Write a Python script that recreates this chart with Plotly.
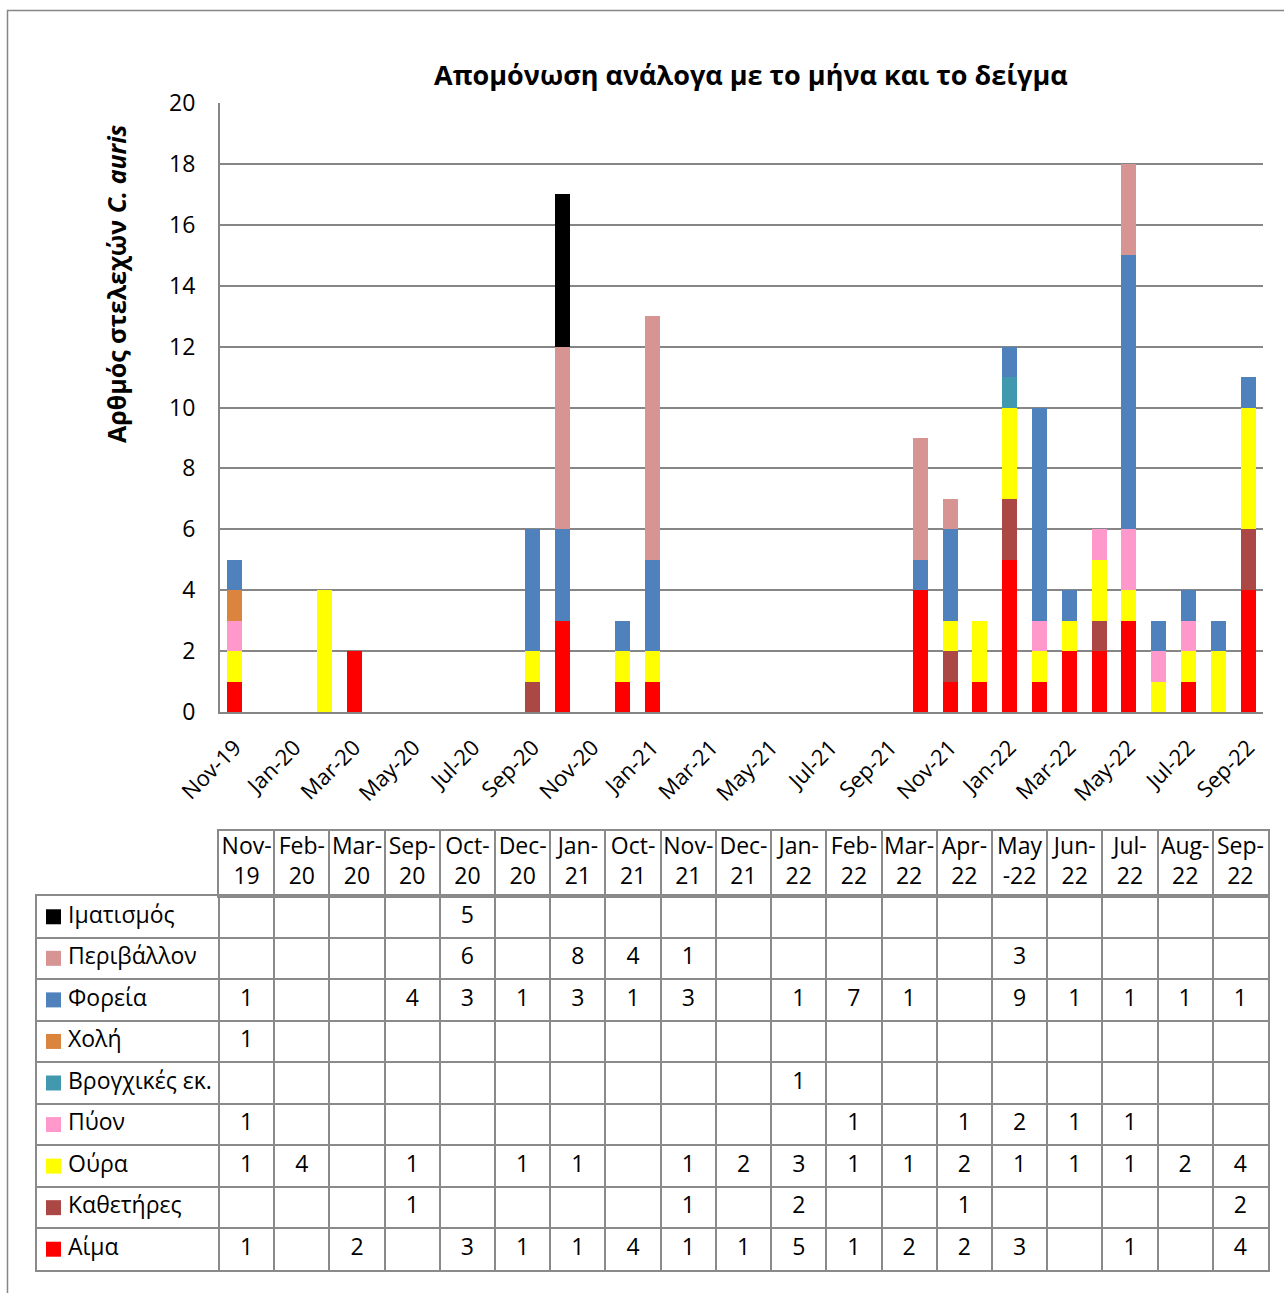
import pandas as pd
import plotly.graph_objects as go

W, H = 1284, 1293

# Months that have isolates (columns of the data table)
months = ["Nov-19", "Feb-20", "Mar-20", "Sep-20", "Oct-20", "Dec-20", "Jan-21",
          "Oct-21", "Nov-21", "Dec-21", "Jan-22", "Feb-22", "Mar-22", "Apr-22",
          "May-22", "Jun-22", "Jul-22", "Aug-22", "Sep-22"]
header_labels = ["Nov-<br>19", "Feb-<br>20", "Mar-<br>20", "Sep-<br>20", "Oct-<br>20",
                 "Dec-<br>20", "Jan-<br>21", "Oct-<br>21", "Nov-<br>21", "Dec-<br>21",
                 "Jan-<br>22", "Feb-<br>22", "Mar-<br>22", "Apr-<br>22", "May<br>-22",
                 "Jun-<br>22", "Jul-<br>22", "Aug-<br>22", "Sep-<br>22"]

# Isolates per specimen type (stack order, bottom to top)
aima       = [1, 0, 2, 0, 3, 1, 1, 4, 1, 1, 5, 1, 2, 2, 3, 0, 1, 0, 4]
katheteres = [0, 0, 0, 1, 0, 0, 0, 0, 1, 0, 2, 0, 0, 1, 0, 0, 0, 0, 2]
oura       = [1, 4, 0, 1, 0, 1, 1, 0, 1, 2, 3, 1, 1, 2, 1, 1, 1, 2, 4]
pyon       = [1, 0, 0, 0, 0, 0, 0, 0, 0, 0, 0, 1, 0, 1, 2, 1, 1, 0, 0]
vrogxikes  = [0, 0, 0, 0, 0, 0, 0, 0, 0, 0, 1, 0, 0, 0, 0, 0, 0, 0, 0]
xoli       = [1, 0, 0, 0, 0, 0, 0, 0, 0, 0, 0, 0, 0, 0, 0, 0, 0, 0, 0]
foreia     = [1, 0, 0, 4, 3, 1, 3, 1, 3, 0, 1, 7, 1, 0, 9, 1, 1, 1, 1]
perivallon = [0, 0, 0, 0, 6, 0, 8, 4, 1, 0, 0, 0, 0, 0, 3, 0, 0, 0, 0]
imatismos  = [0, 0, 0, 0, 5, 0, 0, 0, 0, 0, 0, 0, 0, 0, 0, 0, 0, 0, 0]

series = [
    ("Αίμα", aima, "#FF0000"),
    ("Καθετήρες", katheteres, "#AB4745"),
    ("Ούρα", oura, "#FFFF00"),
    ("Πύον", pyon, "#FF99CC"),
    ("Βρογχικές εκ.", vrogxikes, "#4299AF"),
    ("Χολή", xoli, "#DB843D"),
    ("Φορεία", foreia, "#4F81BD"),
    ("Περιβάλλον", perivallon, "#D69492"),
    ("Ιματισμός", imatismos, "#000000"),
]

# Full monthly axis and the every-other-month tick labels
all_months = list(pd.date_range("2019-11-01", "2022-09-01", freq="MS").strftime("%b-%y"))
tick_months = all_months[::2]

FONT = "Open Sans"
GRID = "#868686"
TGRID = "#8A8A8A"
TXT = 23


def px_x(p):
    return p / W


def px_y(p):
    return 1 - p / H


fig = go.Figure()

# ---- stacked bars ----
for name, vals, color in series:
    fig.add_trace(go.Bar(
        x=months, y=[v if v else None for v in vals], name=name,
        marker=dict(color=color, line=dict(width=0)),
        xaxis="x", yaxis="y",
    ))

# ---- data table: body (x2/y2) and header (x3/y3) ----
n_cols = len(months)
n_rows = len(series)
tbl_left, leg_right, tbl_right = 37, 219, 1268
hdr_top, hdr_bot, tbl_bot = 831, 896, 1270
col_w = (tbl_right - leg_right) / n_cols
leg_w = (leg_right - tbl_left) / col_w  # legend column width in column units

rows = series[::-1]  # table rows run top to bottom in reverse stack order

val_x, val_y, val_t = [], [], []
for i, (_, vals, _) in enumerate(rows):
    for j, v in enumerate(vals):
        if v:
            val_x.append(j + 0.5)
            val_y.append(i + 0.5)
            val_t.append(str(v))

fig.add_trace(go.Scatter(
    x=val_x, y=val_y, text=val_t, mode="text",
    textfont=dict(family=FONT, size=TXT, color="black"),
    textposition="middle center", cliponaxis=False,
    xaxis="x2", yaxis="y2", hoverinfo="skip",
))

# legend keys in the first column
fig.add_trace(go.Scatter(
    x=[-leg_w + 16.5 / col_w] * n_rows,
    y=[i + 0.5 for i in range(n_rows)],
    mode="markers",
    marker=dict(symbol="square", size=15, color=[c for _, _, c in rows],
                line=dict(width=0)),
    cliponaxis=False, xaxis="x2", yaxis="y2", hoverinfo="skip",
))
fig.add_trace(go.Scatter(
    x=[-leg_w + 31 / col_w] * n_rows,
    y=[i + 0.5 for i in range(n_rows)],
    text=[n for n, _, _ in rows], mode="text",
    textposition="middle right",
    textfont=dict(family=FONT, size=TXT, color="black"),
    cliponaxis=False, xaxis="x2", yaxis="y2", hoverinfo="skip",
))

# month headers
fig.add_trace(go.Scatter(
    x=[j + 0.5 for j in range(n_cols)], y=[0.5] * n_cols,
    text=header_labels, mode="text", textposition="middle center",
    textfont=dict(family=FONT, size=TXT, color="black"),
    cliponaxis=False, xaxis="x3", yaxis="y3", hoverinfo="skip",
))

grid_common = dict(showticklabels=False, ticks="", zeroline=False,
                   showgrid=True, gridcolor=TGRID, gridwidth=2,
                   showline=True, mirror=True, linecolor=TGRID, linewidth=2,
                   fixedrange=True, automargin=False)

fig.update_layout(
    width=W, height=H,
    margin=dict(l=0, r=0, t=0, b=0, autoexpand=False),
    paper_bgcolor="white", plot_bgcolor="white",
    barmode="stack", bargap=0.5,
    showlegend=False,
    font=dict(family=FONT, color="black"),
    xaxis=dict(
        domain=[px_x(220), px_x(1263)],
        type="category", categoryorder="array", categoryarray=all_months,
        range=[-0.5, len(all_months) - 0.5],
        tickmode="array", tickvals=tick_months, ticktext=tick_months,
        tickangle=-45, tickfont=dict(size=22, family=FONT),
        showgrid=False, showline=True, linecolor=GRID, linewidth=2,
        ticks="", ticklabelstandoff=12, automargin=False, anchor="y",
    ),
    yaxis=dict(
        domain=[px_y(712), px_y(103)],
        range=[0, 20], dtick=2, tick0=0,
        tickfont=dict(size=TXT, family=FONT),
        showgrid=True, gridcolor=GRID, gridwidth=1.5,
        showline=True, linecolor=GRID, linewidth=2,
        zeroline=False, ticks="", ticklabelstandoff=18,
        automargin=False, anchor="x",
    ),
    xaxis2=dict(domain=[px_x(tbl_left), px_x(tbl_right)],
                range=[-leg_w, n_cols], tickmode="array",
                tickvals=list(range(n_cols)), anchor="y2", **grid_common),
    yaxis2=dict(domain=[px_y(tbl_bot), px_y(hdr_bot)],
                range=[n_rows, 0], tickmode="array",
                tickvals=list(range(1, n_rows)), anchor="x2", **grid_common),
    xaxis3=dict(domain=[px_x(leg_right), px_x(tbl_right)],
                range=[0, n_cols], tickmode="array",
                tickvals=list(range(1, n_cols)), anchor="y3", **grid_common),
    yaxis3=dict(domain=[px_y(hdr_bot), px_y(hdr_top)],
                range=[1, 0], tickmode="array", tickvals=[],
                anchor="x3", **grid_common),
    annotations=[
        dict(text="<b>Απομόνωση ανάλογα με το μήνα και το δείγμα</b>",
             x=px_x(751), y=px_y(74), xref="paper", yref="paper",
             xanchor="center", yanchor="middle",
             showarrow=False, font=dict(size=27, family=FONT, color="black")),
        dict(text="<b>Αρθμός στελεχών <i>C. auris</i></b>",
             x=px_x(116), y=px_y(284), xref="paper", yref="paper",
             xanchor="center", yanchor="middle",
             textangle=-90, showarrow=False,
             font=dict(size=25, family=FONT, color="black")),
    ],
    shapes=[
        dict(type="rect", xref="paper", yref="paper",
             x0=px_x(7.5), x1=1.02, y0=-0.02, y1=px_y(10.5),
             line=dict(color=GRID, width=1.5), fillcolor="rgba(0,0,0,0)",
             layer="below"),
    ],
)

fig.write_html("out.html")
